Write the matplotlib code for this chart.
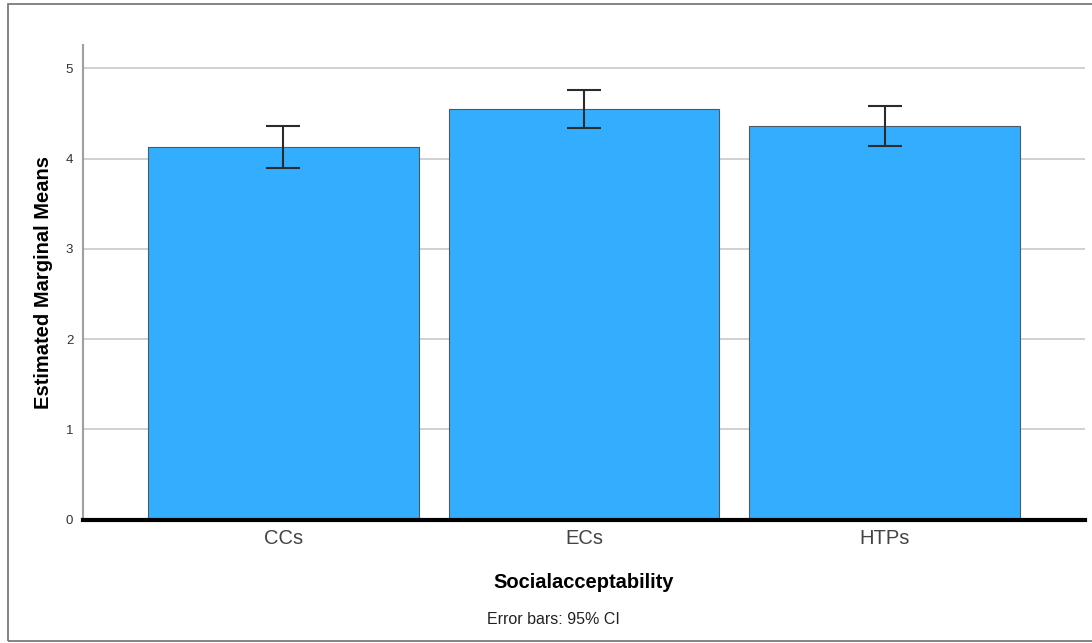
import matplotlib.pyplot as plt
from matplotlib.patches import Rectangle

plt.rcParams['font.family'] = ['Liberation Sans', 'DejaVu Sans']

groups = ['CCs', 'ECs', 'HTPs']
means = [4.13, 4.55, 4.36]
ci_low = [3.90, 4.34, 4.14]
ci_high = [4.36, 4.76, 4.58]
yticks = [0, 1, 2, 3, 4, 5]

fig = plt.figure(figsize=(10.92, 6.43), dpi=100)
ax = fig.add_axes([83/1092, 1 - 519.5/643, (1085-83)/1092, (519.5-45)/643])

x = range(len(groups))
yerr = [[m - l for m, l in zip(means, ci_low)], [h - m for m, h in zip(means, ci_high)]]
ax.bar(x, means, width=0.9, color='#33aeff', edgecolor='#4a5a66', linewidth=0.8, zorder=2)
ax.errorbar(x, means, yerr=yerr, fmt='none', ecolor='#2b2b2b', elinewidth=1.5,
            capsize=12, capthick=1.5, zorder=3)

ax.set_xlim(-0.667, 2.667)
ax.set_ylim(0, 5.26)
ax.set_yticks(yticks)
ax.set_yticklabels([str(t) for t in yticks], fontsize=9.5, color='#333333')
ax.set_xticks(list(x))
ax.set_xticklabels(groups, fontsize=14.5, color='#444444')
ax.tick_params(axis='both', length=0)
ax.tick_params(axis='y', pad=7)
ax.tick_params(axis='x', pad=7)
ax.yaxis.grid(True, color='#c8c8c8', linewidth=1.2, zorder=0)
ax.set_axisbelow(True)

for s in ['top', 'right']:
    ax.spines[s].set_visible(False)
ax.spines['left'].set_color('#a0a0a0')
ax.spines['left'].set_linewidth(1.5)
ax.spines['bottom'].set_color('black')
ax.spines['bottom'].set_linewidth(3)
ax.spines['bottom'].set_zorder(4)

ax.set_ylabel('Estimated Marginal Means', fontsize=14.5, fontweight='bold', labelpad=9)
ax.set_xlabel('Socialacceptability', fontsize=14.5, fontweight='bold', labelpad=18)
fig.text(553/1092, 1 - 620/643, 'Error bars: 95% CI', fontsize=11.5, ha='center', va='center',
         color='#222222')

fig.patches.append(Rectangle((8/1092, 1 - 641/643), 1.2, (641-4)/643, transform=fig.transFigure,
                             fill=False, edgecolor='#707070', linewidth=1.2))

fig.savefig('out.png', dpi=100)
